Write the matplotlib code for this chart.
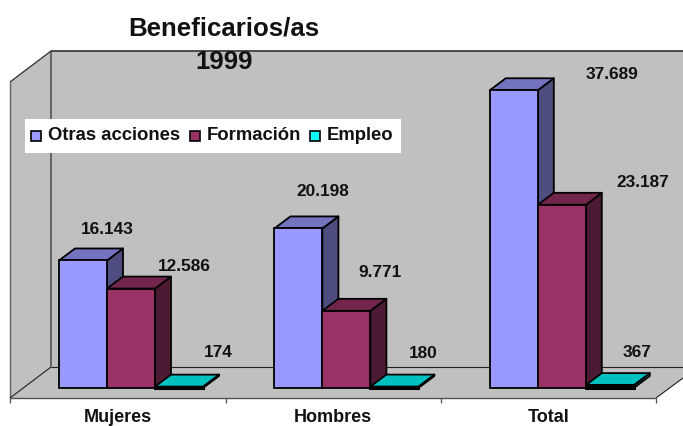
import matplotlib
matplotlib.use("Agg")
import matplotlib.pyplot as plt
from matplotlib.patches import Polygon, Rectangle
from matplotlib.transforms import Affine2D

# data
categories = ["Mujeres", "Hombres", "Total"]
series_names = ["Otras acciones", "Formación", "Empleo"]
otras_acciones = [16143, 20198, 37689]
formacion = [12586, 9771, 23187]
empleo = [174, 180, 367]
value_labels = [["16.143", "20.198", "37.689"],
                ["12.586", "9.771", "23.187"],
                ["174", "180", "367"]]

# label offset from the bar's top left corner, pixels
label_offsets = [[(48, 31), (48, 37), (122, 16)],
                 [(77, 22), (58, 38), (105, 22)],
                 [(63, 34), (53, 33), (51, 33)]]

W, H = 683, 426
PX_PER_CAT = 215.4
PX_PER_VAL = 0.0079
X0_PX, Y0_PX = 59, 388      # where x=0, value=0 land
BAR_W = 48 / PX_PER_CAT
DX = 16 / PX_PER_CAT        # 3d depth in data units
DY = 12 / PX_PER_VAL

FRONT = ["#9999FF", "#993366", "#00FFFF"]
TOP = ["#7373BF", "#73264D", "#00C0C0"]
SIDE = ["#4D4D80", "#4D1A33", "#008080"]
GREY = "#C0C0C0"
FONT = ["Liberation Sans", "DejaVu Sans"]

plt.rcParams["font.family"] = FONT
plt.rcParams["font.weight"] = "bold"

fig = plt.figure(figsize=(W / 100, H / 100), dpi=100, facecolor="white")
ax = fig.add_axes([0, 0, 1, 1])
ax.set_xlim(-X0_PX / PX_PER_CAT, (W - X0_PX) / PX_PER_CAT)
ax.set_ylim(-(H - Y0_PX) / PX_PER_VAL, Y0_PX / PX_PER_VAL)
ax.axis("off")

# pixel coordinates, origin top left, for the chart frame and the furniture
px = Affine2D().scale(1, -1).translate(0, H)


def frame(points, **kw):
    ax.add_patch(Polygon(points, closed=True, transform=px, clip_on=False, **kw))


# ── walls and floor ──
frame([(51, 51), (683, 51), (683, 367), (51, 367)], fc=GREY, ec="none", zorder=1)
frame([(10, 82), (51, 51), (51, 367), (10, 398)], fc=GREY, ec="none", zorder=1)
frame([(10, 398), (51, 367), (683, 367), (683, 378), (656, 398)], fc=GREY, ec="none", zorder=1)


def line(xs, ys, color="#303030", lw=1.0):
    ax.plot(xs, ys, color=color, lw=lw, transform=px, zorder=1.5, clip_on=False,
            solid_capstyle="butt")


line([51, 683], [51, 51], "#404040", 1.3)
line([10, 51, 51], [82, 51, 367], "#303030", 0.9)
line([10, 10], [82, 398], "#606060", 1.0)
line([51, 683], [367, 367], "#202020", 0.8)
line([10, 51], [398, 367], "#202020", 0.8)
line([656, 683], [398, 378], "#202020", 0.8)
line([10, 656], [398, 398], "#505050", 1.0)
for tick_x in [10, 226, 441, 656]:
    line([tick_x, tick_x], [398, 403], "#505050", 0.9)

# ── bars ──
LW = 1.3
FRONT_LW = [1.3, 1.3, 2.2]  # the empleo bars are so flat the front is all outline
all_values = [otras_acciones, formacion, empleo]
for c in range(len(categories)):
    for s, values in enumerate(all_values):
        v = values[c]
        x0 = c + s * BAR_W
        x1 = x0 + BAR_W
        ax.add_patch(Polygon([(x1, 0), (x1 + DX, DY), (x1 + DX, v + DY), (x1, v)],
                             fc=SIDE[s], ec="black", lw=LW, zorder=2 + s,
                             joinstyle="round"))
        ax.add_patch(Polygon([(x0, v), (x0 + DX, v + DY), (x1 + DX, v + DY), (x1, v)],
                             fc=TOP[s], ec="black", lw=LW, zorder=2 + s,
                             joinstyle="round"))
        ax.bar(x0, v, BAR_W, align="edge", color=FRONT[s], edgecolor="black",
               linewidth=FRONT_LW[s], zorder=2 + s)
        off = label_offsets[s][c]
        ax.annotate(value_labels[s][c], (x0, v), xytext=off, textcoords="offset pixels",
                    ha="center", va="center", fontsize=12.4, color="#111111", zorder=8)

# ── category labels ──
for name, cx in zip(categories, [118, 333, 549]):
    ax.text(cx, 417, name, transform=px, ha="center", va="center", fontsize=13,
            color="#111111", clip_on=False, zorder=8)

# ── legend ──
ax.add_patch(Rectangle((25, 119), 376, 34, transform=px, fc="white", ec="none", zorder=6))
for name, box_x, text_x in zip(series_names, [31, 190, 310], [48, 207, 327]):
    i = series_names.index(name)
    ax.add_patch(Rectangle((box_x, 131), 10, 10, transform=px, fc=FRONT[i], ec="black",
                           lw=1.2, zorder=7))
    ax.text(text_x, 135, name, transform=px, ha="left", va="center", fontsize=13.3,
            color="#111111", zorder=8)

# ── title ──
ax.text(224, 29, "Beneficarios/as", transform=px, ha="center", va="center",
        fontsize=18.6, color="#111111", zorder=8)
ax.text(224, 62, "1999", transform=px, ha="center", va="center",
        fontsize=18.6, color="#111111", zorder=8)

fig.savefig("out.png", dpi=100)
